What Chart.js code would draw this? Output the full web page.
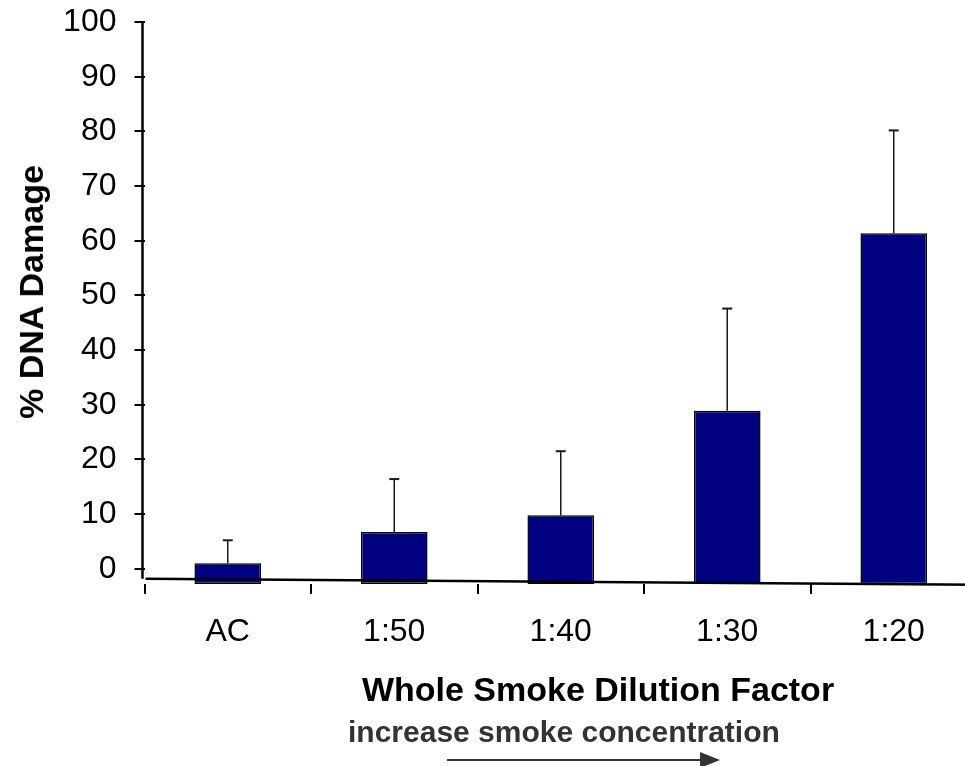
<!DOCTYPE html>
<html><head><meta charset="utf-8">
<script src="https://cdn.jsdelivr.net/npm/chart.js@4.4.1/dist/chart.umd.min.js"></script>
<style>
html,body{margin:0;padding:0;background:#fff;overflow:hidden;width:965px;height:766px;}
#wrap{position:relative;width:965px;height:766px;overflow:hidden;background:#fff;}
#c{position:absolute;left:0;top:-15.5px;}
.t{position:absolute;font-family:"Liberation Sans",Arial,sans-serif;font-weight:bold;white-space:nowrap;line-height:1;}
#ytitle{left:31px;top:291.5px;font-size:34px;color:#000;transform:translate(-50%,-50%) rotate(-90deg);}
#xtitle{left:598px;top:672px;font-size:34px;color:#000;transform:translateX(-50%);}
#note{left:348px;top:716.5px;font-size:30px;color:#333;}
#arrow{position:absolute;left:0;top:0;}
</style></head><body>
<div id="wrap">
<canvas id="c" width="1000" height="782"></canvas>
<div class="t" id="ytitle">% DNA Damage</div>
<div class="t" id="xtitle">Whole Smoke Dilution Factor</div>
<div class="t" id="note">increase smoke concentration</div>
<svg id="arrow" width="965" height="766"><line x1="447" y1="760" x2="703" y2="760" stroke="#333" stroke-width="2"/><polygon points="700,752 720,760 700,768" fill="#333"/></svg>
</div>
<script>
// ---- data ----
const categories = ['AC', '1:50', '1:40', '1:30', '1:20'];
const meanDamage = [1.0, 6.7, 9.8, 28.9, 61.4];
const sdDamage = [4.2, 9.7, 11.7, 18.7, 18.8];
const yTicks = [0, 10, 20, 30, 40, 50, 60, 70, 80, 90, 100];
const barBase = -2.8;              // bars start slightly below zero in the original
const xAxisLineY = [-1.85, -2.95]; // slanted x-axis line (left, right) in data units

const FONT = '"Liberation Sans", Arial, sans-serif';

const overlay = {
  id: 'overlay',
  afterDatasetsDraw(chart) {
    const {ctx, chartArea, scales: {x, y}} = chart;
    ctx.save();
    // error bars (upper only)
    ctx.strokeStyle = '#1a1a1a';
    meanDamage.forEach((m, i) => {
      const px = x.getPixelForValue(i);
      const y0 = y.getPixelForValue(m);
      const y1 = y.getPixelForValue(m + sdDamage[i]);
      ctx.lineWidth = 1.5;
      ctx.beginPath(); ctx.moveTo(px, y0); ctx.lineTo(px, y1); ctx.stroke();
      ctx.lineWidth = 2;
      ctx.beginPath(); ctx.moveTo(px - 5, y1); ctx.lineTo(px + 5, y1); ctx.stroke();
    });
    // y axis line
    ctx.strokeStyle = '#000';
    ctx.lineWidth = 2.5;
    const yTop = y.getPixelForValue(yTicks[yTicks.length - 1]);
    const yLeft = y.getPixelForValue(xAxisLineY[0]);
    ctx.beginPath(); ctx.moveTo(chartArea.left - 2, yTop - 1); ctx.lineTo(chartArea.left - 2, yLeft); ctx.stroke();
    // slanted x axis line
    ctx.beginPath();
    ctx.moveTo(chartArea.left + 1, yLeft);
    ctx.lineTo(chartArea.right, y.getPixelForValue(xAxisLineY[1]));
    ctx.stroke();
    ctx.restore();
  }
};

new Chart(document.getElementById('c'), {
  type: 'bar',
  data: {
    labels: categories,
    datasets: [{
      data: meanDamage,
      base: barBase,
      backgroundColor: '#000080',
      borderColor: '#000',
      borderWidth: 1.5,
      borderSkipped: false,
      barPercentage: 0.4,
      categoryPercentage: 1
    }]
  },
  options: {
    responsive: false,
    animation: false,
    layout: {padding: {top: 3, right: 23, bottom: 116, left: 0}},
    plugins: {legend: {display: false}, tooltip: {enabled: false}, title: {display: false}},
    scales: {
      x: {
        type: 'category',
        border: {display: false},
        afterFit: (s) => { s.height = 67; },
        grid: {offset: true, drawOnChartArea: false, drawTicks: true, tickLength: 10, color: '#000', lineWidth: 2},
        ticks: {color: '#000', font: {family: FONT, size: 32}, padding: 19, maxRotation: 0, autoSkip: false}
      },
      y: {
        min: barBase,
        max: 100,
        border: {display: false},
        afterBuildTicks: (s) => { s.ticks = yTicks.map(v => ({value: v})); },
        afterFit: (s) => { s.width = 144.5; },
        grid: {drawOnChartArea: false, drawTicks: true, tickLength: 10, color: '#000', lineWidth: 2},
        ticks: {color: '#000', font: {family: FONT, size: 32}, padding: 18}
      }
    }
  },
  plugins: [overlay]
});
</script>
</body></html>
